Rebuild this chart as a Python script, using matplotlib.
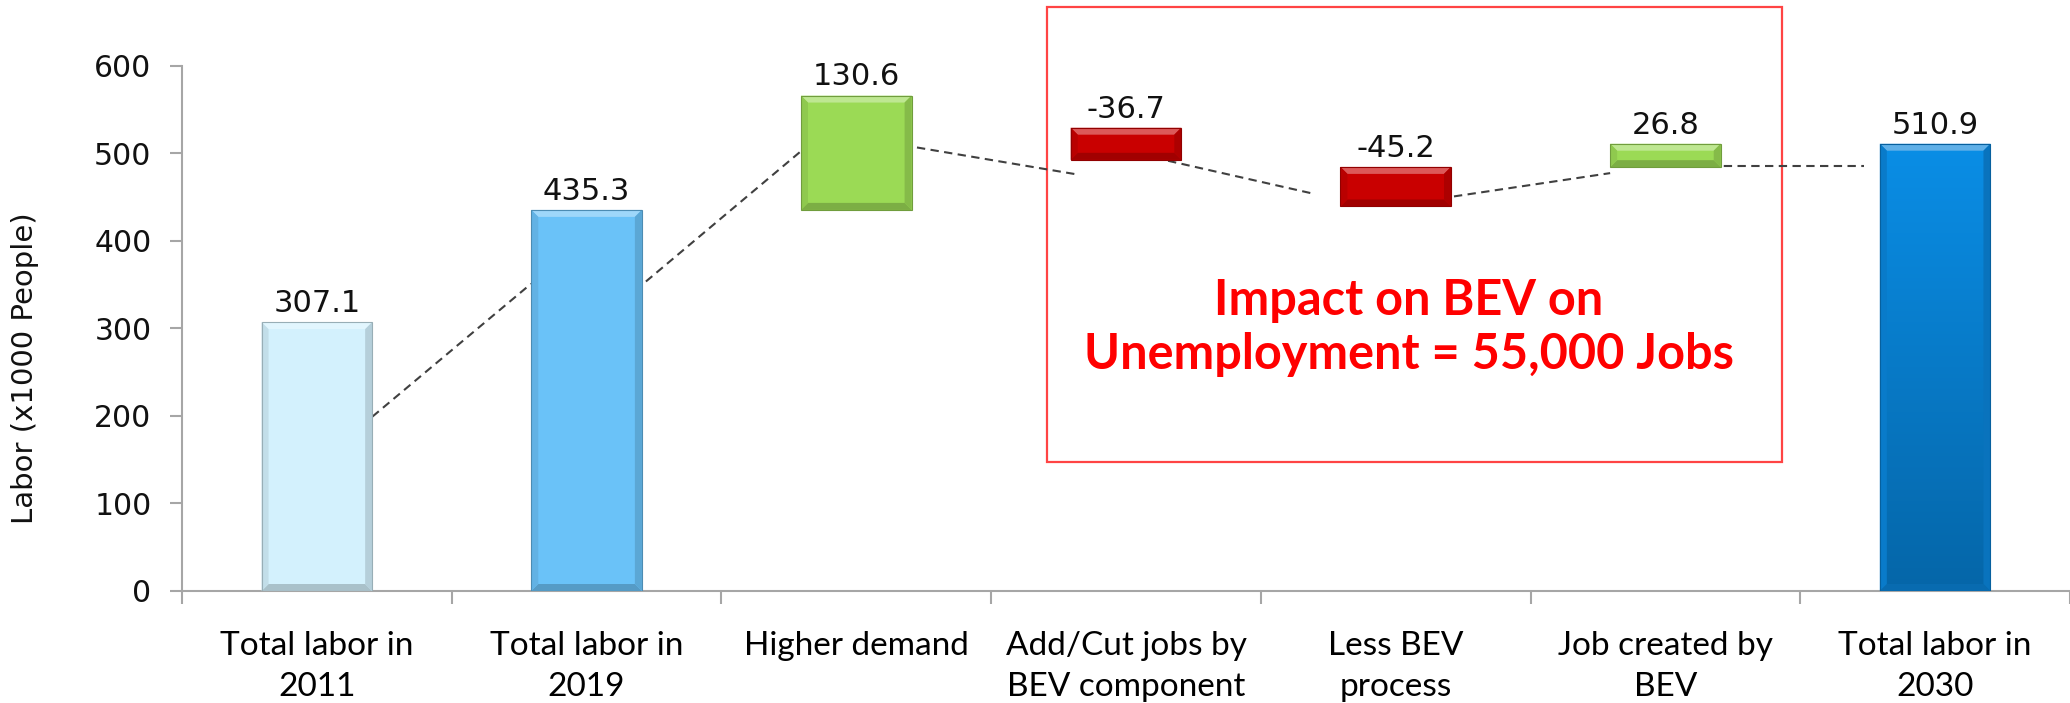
import matplotlib
matplotlib.use('Agg')
import matplotlib.pyplot as plt
import numpy as np
from matplotlib.patches import Rectangle, Polygon
import matplotlib.colors as mcolors

# ---------------- data ----------------
categories = ["Total labor in\n2011", "Total labor in\n2019", "Higher demand",
              "Add/Cut jobs by\nBEV component", "Less BEV\nprocess",
              "Job created by\nBEV", "Total labor in\n2030"]
values = [307.1, 435.3, 130.6, -36.7, -45.2, 26.8, 510.9]
value_labels = ["307.1", "435.3", "130.6", "-36.7", "-45.2", "26.8", "510.9"]
bar_bottoms = [0, 0, 435.3, 492.5, 439.2, 484.1, 0]
conn_start = [199.2, 353.5, 506.6, 491.4, 450.7, 485.0]
conn_end = [350.9, 505.0, 476.2, 453.7, 477.3, 485.0]
yticks = [0, 100, 200, 300, 400, 500, 600]
ylabel = "Labor (x1000 People)"
box_text = "Impact on BEV on\nUnemployment = 55,000 Jobs"

# ---------------- style ----------------
bar_colors = ['#D3F1FD', '#6AC2F8', '#9BDA55', '#C90000', '#C90000', '#9BDA55', '#0A86DC']
bar_width = 0.41
conn_x0 = [0.206, 0.220, 0.225, 0.156, 0.216, 0.165]
conn_x1 = [-0.206, -0.195, -0.189, -0.304, -0.205, -0.262]

W, H = 2070, 703
fig = plt.figure(figsize=(W / 100, H / 100), dpi=100)
ax_left, ax_bottom, ax_top = 182, 591, 65.7
ax = fig.add_axes([ax_left / W, (H - ax_bottom) / H, (W - ax_left) / W, (ax_bottom - ax_top) / H])
ax.set_xlim(-0.5, -0.5 + (W - ax_left) / 270.3)
ax.set_ylim(0, 600)

x = np.arange(len(categories))
heights = [abs(v) if i not in (0, 1, 6) else v for i, v in enumerate(values)]
bars = ax.bar(x, heights, bottom=bar_bottoms, width=bar_width, color=bar_colors,
              edgecolor='none', zorder=3)

# bevel / shading decoration derived from bar geometry
px_x = 1.0 / 270.3
px_y = 600.0 / (ax_bottom - ax_top)
bev = 7
for i, b in enumerate(bars):
    x0, y0 = b.get_x(), b.get_y()
    w, h = b.get_width(), b.get_height()
    base = np.array(mcolors.to_rgb(bar_colors[i]))
    light = np.clip(base + (1 - base) * 0.35, 0, 1)
    dark = base * 0.8
    dx, dy = bev * px_x, min(bev * px_y, h / 3)
    if i == 6:
        grad = np.linspace(0, 1, 256).reshape(-1, 1)
        top_c = np.array(mcolors.to_rgb('#0A8EE6'))
        bot_c = np.array(mcolors.to_rgb('#0566A8'))
        img = top_c[None, None, :] * (1 - grad[:, :, None]) + bot_c[None, None, :] * grad[:, :, None]
        im = ax.imshow(img, extent=(x0, x0 + w, y0, y0 + h), origin='upper',
                       aspect='auto', zorder=3.1)
        im.set_clip_path(b)
    ax.add_patch(Polygon([(x0, y0 + h), (x0 + w, y0 + h), (x0 + w - dx, y0 + h - dy), (x0 + dx, y0 + h - dy)],
                         closed=True, color=light, zorder=3.2, lw=0))
    ax.add_patch(Polygon([(x0, y0), (x0 + w, y0), (x0 + w - dx, y0 + dy), (x0 + dx, y0 + dy)],
                         closed=True, color=dark, zorder=3.2, lw=0))
    ax.add_patch(Polygon([(x0, y0), (x0 + dx, y0 + dy), (x0 + dx, y0 + h - dy), (x0, y0 + h)],
                         closed=True, color=base * 0.92, zorder=3.2, lw=0))
    ax.add_patch(Polygon([(x0 + w, y0), (x0 + w - dx, y0 + dy), (x0 + w - dx, y0 + h - dy), (x0 + w, y0 + h)],
                         closed=True, color=base * 0.86, zorder=3.2, lw=0))
    ax.add_patch(Rectangle((x0, y0), w, h, fill=False, edgecolor=dark * 0.9, lw=0.8, zorder=3.3))
    ax.annotate(value_labels[i], (x0 + w / 2, y0 + h), xytext=(0, 3), textcoords='offset points',
                ha='center', va='bottom', fontsize=22, family='DejaVu Sans', color='#111111', zorder=5)

# dashed connectors
for k in range(len(conn_start)):
    ax.plot([k + conn_x0[k], k + 1 + conn_x1[k]], [conn_start[k], conn_end[k]],
            ls=(0, (4, 2.6)), lw=1.5, color='#404040', zorder=2)

# axes styling
for s in ['top', 'right']:
    ax.spines[s].set_visible(False)
for s in ['left', 'bottom']:
    ax.spines[s].set_color('#A6A6A6')
    ax.spines[s].set_linewidth(1.5)
ax.spines['left'].set_bounds(0, 600)
ax.set_yticks(yticks)
ax.set_yticklabels([str(t) for t in yticks], fontsize=21.5, family='DejaVu Sans', color='#111111')
ax.tick_params(axis='y', length=9, width=1.5, color='#A6A6A6', pad=13)
ax.set_xticks(x)
ax.set_xticklabels(categories, fontsize=24, family='Lato', color='#000000', linespacing=1.45)
ax.tick_params(axis='x', which='major', length=0, pad=29)
ax.set_xticks(np.arange(-0.5, len(categories), 1.0), minor=True)
ax.tick_params(axis='x', which='minor', length=9, width=1.5, color='#A6A6A6')
ax.set_ylabel(ylabel, fontsize=21, family='DejaVu Sans', color='#111111')
ax.yaxis.set_label_coords(-0.0757, 0.425)

# red box and annotation
box_x0, box_x1 = (1049 - 317) / 270.3, (1785 - 317) / 270.3
box_y0, box_y1 = 147.4, 667.4
ax.add_patch(Rectangle((box_x0, box_y0), box_x1 - box_x0, box_y1 - box_y0, fill=False,
                       edgecolor='#FF4444', lw=1.6, clip_on=False, zorder=1))
ax.text((box_x0 + box_x1) / 2 - 0.02, 301, box_text, ha='center', va='center', fontsize=35,
        family='Lato', fontweight='bold', color='#FF0000', linespacing=1.25, zorder=6)

fig.savefig('out.png', dpi=100)
